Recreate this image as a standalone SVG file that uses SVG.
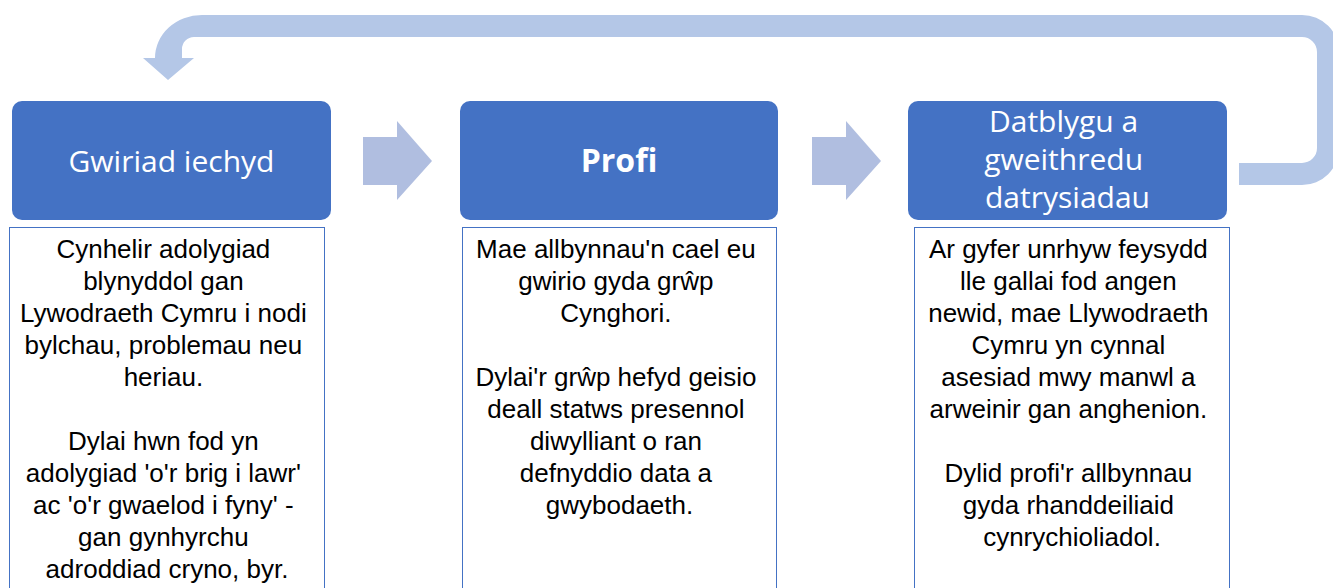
<svg xmlns="http://www.w3.org/2000/svg" width="1333" height="588" viewBox="0 0 1333 588">
<style>
.hdr{fill:#4472C4}
.ht{fill:#FFFFFF;font-family:"Open Sans","Noto Sans",sans-serif;font-size:30px;text-anchor:middle}
.hb{font-weight:bold;font-size:32px}
.tb{fill:#FFFFFF;stroke:#4472C4;stroke-width:1}
.bt{fill:#000000;font-family:"Liberation Sans",Arial,sans-serif;font-size:26px;text-anchor:middle}
.arr{fill:#B0BEE0}
.loop{fill:#B4C7E7}
</style>
<g id="connectors">
<path class="loop" d="M1239,163 L1302,163 A15,15 0 0 0 1317,148 L1317,52 A15,15 0 0 0 1302,37 L194,37 A12,12 0 0 0 182,49 L182,58 L194,58 L168,80 L143,58 L155,58 A47,43 0 0 1 202,15 L1302,15 A37,37 0 0 1 1339,52 L1339,148 A37,37 0 0 1 1302,185 L1239,185 Z"/>
<path class="arr" d="M363,137 L397,137 L397,121 L432,161 L397,200 L397,185 L363,185 Z"/>
<path class="arr" d="M812,137 L846,137 L846,121 L881,161 L846,200 L846,185 L812,185 Z"/>
</g>
<g id="node1">
<rect class="hdr" x="12" y="101" width="319" height="119" rx="10"/>
<text class="ht" x="171.5" y="172">Gwiriad iechyd</text>
<rect class="tb" x="9.5" y="227.5" width="315" height="400"/>
<text class="bt">
<tspan x="167" y="258">Cynhelir adolygiad</tspan>
<tspan x="167" y="290">blynyddol gan</tspan>
<tspan x="167" y="322">Lywodraeth Cymru i nodi</tspan>
<tspan x="167" y="354">bylchau, problemau neu</tspan>
<tspan x="167" y="386">heriau.</tspan>
<tspan x="167" y="450">Dylai hwn fod yn</tspan>
<tspan x="167" y="482">adolygiad 'o'r brig i lawr'</tspan>
<tspan x="167" y="514">ac 'o'r gwaelod i fyny' -</tspan>
<tspan x="167" y="546">gan gynhyrchu</tspan>
<tspan x="167" y="578">adroddiad cryno, byr.</tspan>
</text>
</g>
<g id="node2">
<rect class="hdr" x="460" y="101" width="318" height="119" rx="10"/>
<text class="ht hb" x="619" y="172">Profi</text>
<rect class="tb" x="462.5" y="227.5" width="314" height="400"/>
<text class="bt">
<tspan x="619.5" y="258">Mae allbynnau'n cael eu</tspan>
<tspan x="619.5" y="290">gwirio gyda grŵp</tspan>
<tspan x="619.5" y="322">Cynghori.</tspan>
<tspan x="619.5" y="386">Dylai'r grŵp hefyd geisio</tspan>
<tspan x="619.5" y="418">deall statws presennol</tspan>
<tspan x="619.5" y="450">diwylliant o ran</tspan>
<tspan x="619.5" y="482">defnyddio data a</tspan>
<tspan x="619.5" y="514">gwybodaeth.</tspan>
</text>
</g>
<g id="node3">
<rect class="hdr" x="908" y="101" width="319" height="119" rx="10"/>
<text class="ht">
<tspan x="1067.5" y="132">Datblygu a</tspan>
<tspan x="1067.5" y="170">gweithredu</tspan>
<tspan x="1067.5" y="208">datrysiadau</tspan>
</text>
<rect class="tb" x="914.5" y="227.5" width="315" height="400"/>
<text class="bt">
<tspan x="1072" y="258">Ar gyfer unrhyw feysydd</tspan>
<tspan x="1072" y="290">lle gallai fod angen</tspan>
<tspan x="1072" y="322">newid, mae Llywodraeth</tspan>
<tspan x="1072" y="354">Cymru yn cynnal</tspan>
<tspan x="1072" y="386">asesiad mwy manwl a</tspan>
<tspan x="1072" y="418">arweinir gan anghenion.</tspan>
<tspan x="1072" y="482">Dylid profi'r allbynnau</tspan>
<tspan x="1072" y="514">gyda rhanddeiliaid</tspan>
<tspan x="1072" y="546">cynrychioliadol.</tspan>
</text>
</g>
</svg>
